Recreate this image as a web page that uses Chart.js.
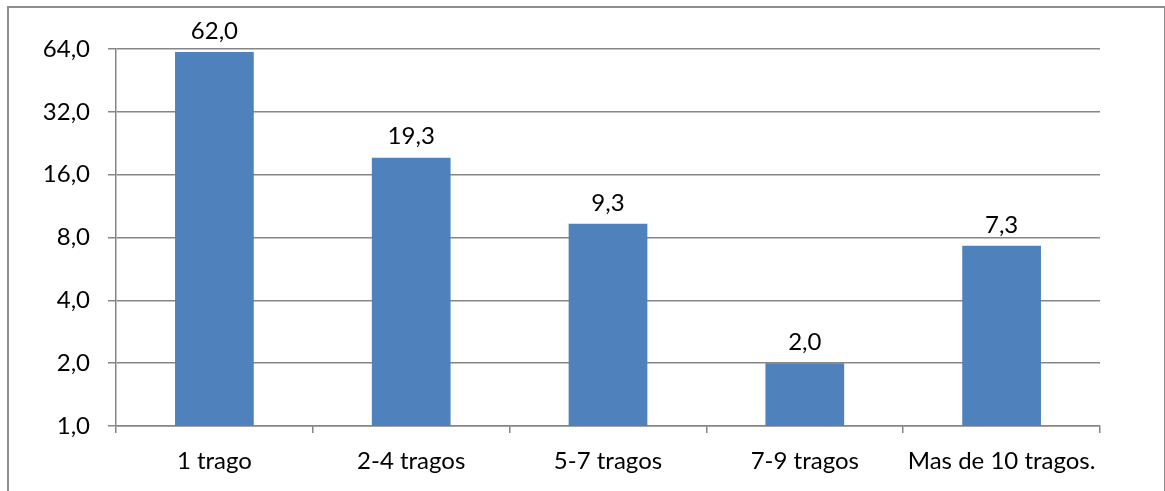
<!DOCTYPE html>
<html>
<head>
<meta charset="utf-8">
<script src="https://cdn.jsdelivr.net/npm/chart.js@4"></script>
<style>
  body { margin: 0; background: #fff; }
  #wrap { position: relative; width: 1165px; height: 491px; overflow: hidden; }
  #frame { position: absolute; left: 7px; top: 6px; width: 1155px; height: 520px; border: 2px solid #8e8e8e; pointer-events: none; }
  canvas { position: absolute; left: 0; top: 0; }
</style>
</head>
<body>
<div id="wrap">
  <canvas id="chart" width="1165" height="491"></canvas>
  <div id="frame"></div>
</div>
<script>
var categories = ["1 trago", "2-4 tragos", "5-7 tragos", "7-9 tragos", "Mas de 10 tragos."];
var values = [62.0, 19.3, 9.3, 2.0, 7.3];
var yTicks = [1, 2, 4, 8, 16, 32, 64];

var fontFamily = "Lato, 'Liberation Sans', sans-serif";
var fontSize = 24;

function fmt(v) {
  return v.toFixed(1).replace(".", ",");
}

// value labels above each bar
var barLabels = {
  id: "barLabels",
  afterDatasetsDraw: function (chart) {
    var ctx = chart.ctx;
    var meta = chart.getDatasetMeta(0);
    ctx.save();
    ctx.fillStyle = "#000";
    ctx.font = fontSize + "px " + fontFamily;
    ctx.textAlign = "center";
    ctx.textBaseline = "middle";
    meta.data.forEach(function (bar, i) {
      ctx.fillText(fmt(values[i]), bar.x, bar.y - 21);
    });
    ctx.restore();
  }
};

var ctx = document.getElementById("chart").getContext("2d");
var chart = new Chart(ctx, {
  type: "bar",
  data: {
    labels: categories,
    datasets: [{
      data: values,
      backgroundColor: "#4F81BD",
      barPercentage: 0.4,
      categoryPercentage: 1.0
    }]
  },
  options: {
    responsive: false,
    animation: false,
    layout: { padding: { left: 0, right: 65, top: 49, bottom: 0 } },
    plugins: {
      legend: { display: false },
      tooltip: { enabled: false }
    },
    scales: {
      x: {
        grid: {
          offset: true,
          drawOnChartArea: false,
          tickLength: 7,
          color: "#868686",
          lineWidth: 1.5
        },
        border: { color: "#868686", width: 1.5 },
        ticks: {
          color: "#000",
          font: { size: fontSize, family: fontFamily },
          padding: 14,
          maxRotation: 0
        },
        afterFit: function (s) { s.height = 65; }
      },
      y: {
        type: "logarithmic",
        min: 1,
        max: 64,
        afterBuildTicks: function (axis) {
          axis.ticks = yTicks.map(function (v) { return { value: v }; });
        },
        grid: {
          color: "#868686",
          lineWidth: 1.5,
          tickLength: 8
        },
        border: { color: "#868686", width: 1.5 },
        ticks: {
          color: "#000",
          font: { size: fontSize, family: fontFamily },
          padding: 18,
          callback: function (v) { return fmt(v); }
        },
        afterFit: function (s) { s.width = 116; }
      }
    }
  },
  plugins: [barLabels]
});
</script>
</body>
</html>
